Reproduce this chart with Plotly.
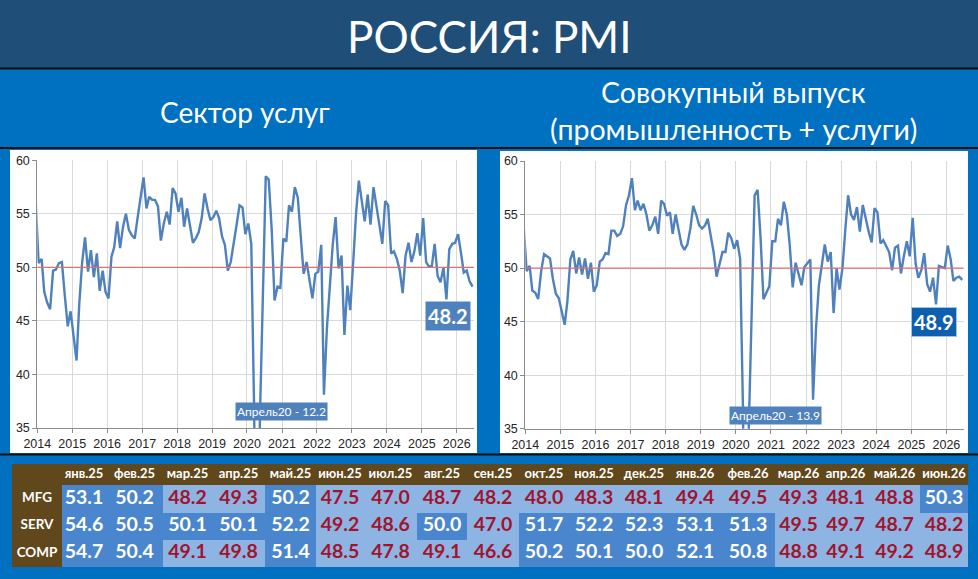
import numpy as np
import pandas as pd
import plotly.graph_objects as go

# ---------------- data ----------------
# monthly points (mid-month), Dec 2013 .. Jun 2026
months = pd.date_range("2013-12-01", "2026-06-01", freq="MS") + pd.Timedelta(days=14)

services = [56.2,
    50.4, 50.8, 47.7, 46.7, 46.1, 49.7, 49.8, 50.4, 50.5, 47.4, 44.5, 45.9,
    43.7, 41.3, 46.5, 50.5, 52.8, 49.6, 51.6, 49.1, 51.3, 47.8, 49.7, 47.7,
    47.1, 51.0, 51.9, 54.3, 51.8, 53.8, 55.0, 53.5, 53.0, 52.7, 54.7, 56.4,
    58.4, 55.5, 56.6, 56.3, 56.3, 55.7, 52.5, 54.1, 55.2, 54.0, 57.4, 56.9,
    55.2, 56.5, 53.8, 55.5, 53.9, 52.3, 52.7, 53.3, 54.6, 56.9, 55.5, 54.4,
    54.7, 55.3, 54.6, 52.9, 52.1, 49.7, 50.5, 52.1, 54.0, 55.8, 55.6, 53.1,
    54.1, 52.2, 37.1, 12.2, 35.9, 47.3, 58.5, 58.2, 53.6, 46.9, 48.2, 48.1,
    52.7, 52.4, 55.8, 55.2, 57.5, 56.5, 53.3, 49.4, 50.5, 48.8, 47.1, 49.4,
    49.6, 52.1, 38.1, 44.3, 48.7, 52.1, 54.7, 49.9, 51.1, 43.7, 48.3, 46.0,
    50.5, 55.2, 58.1, 56.0, 54.3, 56.8, 54.0, 57.5, 55.7, 53.8, 52.2, 56.2,
    55.8, 51.3, 51.5, 50.8, 49.7, 47.6, 51.1, 52.3, 50.5, 51.5, 53.2, 51.1,
    54.6, 50.5, 50.1, 50.1, 52.2, 49.2, 48.6, 50.0, 47.0, 51.7, 52.2, 52.3,
    53.1, 51.3, 49.5, 49.7, 48.7, 48.2]

composite = [53.9,
    49.7, 50.2, 47.9, 47.7, 47.1, 49.7, 51.3, 51.1, 50.9, 49.0, 47.6, 47.2,
    45.8, 44.7, 46.9, 50.8, 51.6, 49.5, 51.0, 49.4, 50.9, 49.0, 50.5, 47.8,
    48.4, 50.6, 50.8, 51.4, 51.3, 53.5, 53.5, 53.0, 53.2, 53.9, 55.9, 56.8,
    58.4, 55.4, 56.3, 55.4, 56.0, 55.0, 53.5, 54.0, 54.8, 53.2, 56.3, 56.0,
    54.9, 55.2, 53.2, 55.0, 53.6, 52.2, 51.7, 52.2, 53.7, 55.8, 55.0, 54.0,
    53.7, 54.0, 54.6, 53.1, 51.5, 49.2, 50.3, 51.5, 51.5, 53.3, 52.8, 51.8,
    52.6, 50.9, 37.2, 13.9, 35.0, 47.1, 56.8, 57.3, 52.8, 47.1, 47.8, 48.3,
    52.5, 52.5, 54.6, 54.0, 56.2, 55.0, 52.2, 48.2, 50.5, 49.5, 48.4, 50.1,
    50.4, 50.8, 37.7, 44.4, 48.4, 50.3, 52.2, 50.6, 51.5, 45.8, 50.0, 48.0,
    50.0, 53.7, 56.8, 55.0, 54.5, 55.7, 53.4, 55.9, 54.5, 53.4, 52.4, 55.6,
    55.2, 52.3, 52.6, 52.0, 51.5, 49.8, 51.9, 52.1, 49.5, 51.1, 52.5, 51.1,
    54.7, 50.4, 49.1, 49.8, 51.4, 48.5, 47.8, 49.1, 46.6, 50.2, 50.1, 50.0,
    52.1, 50.8, 48.8, 49.1, 49.2, 48.9]

table_months = ["янв.25", "фев.25", "мар.25", "апр.25", "май.25", "июн.25", "июл.25", "авг.25", "сен.25",
                "окт.25", "ноя.25", "дек.25", "янв.26", "фев.26", "мар.26", "апр.26", "май.26", "июн.26"]
row_labels = ["MFG", "SERV", "COMP"]
mfg = [53.1, 50.2, 48.2, 49.3, 50.2, 47.5, 47.0, 48.7, 48.2, 48.0, 48.3, 48.1, 49.4, 49.5, 49.3, 48.1, 48.8, 50.3]
serv = [54.6, 50.5, 50.1, 50.1, 52.2, 49.2, 48.6, 50.0, 47.0, 51.7, 52.2, 52.3, 53.1, 51.3, 49.5, 49.7, 48.7, 48.2]
comp = [54.7, 50.4, 49.1, 49.8, 51.4, 48.5, 47.8, 49.1, 46.6, 50.2, 50.1, 50.0, 52.1, 50.8, 48.8, 49.1, 49.2, 48.9]

# ---------------- style ----------------
W, H = 978, 579
def fx(p): return p / W
def fy(p): return 1 - p / H

LINE = "#4F81BD"
BANNER = "#1F4E79"
BG = "#0070C0"
BROWN = "#60481C"
DARK_CELL = "#4A86CE"
LIGHT_CELL = "#8EB4E3"
RED_TXT = "#A0142E"
TXT_FONT = "Lato"
AX_FONT = "Liberation Sans, Arial"

fig = go.Figure()
fig.add_trace(go.Scatter(x=months, y=services, mode="lines", line=dict(color=LINE, width=2.4),
                         xaxis="x", yaxis="y", showlegend=False, hoverinfo="skip"))
fig.add_trace(go.Scatter(x=months, y=composite, mode="lines", line=dict(color=LINE, width=2.4),
                         xaxis="x2", yaxis="y2", showlegend=False, hoverinfo="skip"))

# ---------------- table (heatmap cells + text) ----------------
colwidths = [50, 44, 57, 49, 53, 51, 48, 53, 50, 52, 50, 50, 50, 52, 54, 47, 47, 51, 48]
rowheights = [21, 27.5, 27, 27.5]
xedges = np.concatenate([[0], np.cumsum(colwidths)])
yedges = np.concatenate([[0], np.cumsum(rowheights)])
xc = (xedges[:-1] + xedges[1:]) / 2
yc = (yedges[:-1] + yedges[1:]) / 2

rows = [mfg, serv, comp]
z = [[0] * len(colwidths)]
for r in rows:
    z.append([0] + [1 if v >= 50 else 2 for v in r])

fig.add_trace(go.Heatmap(
    z=z, x=xedges, y=yedges, xaxis="x3", yaxis="y3", zmin=0, zmax=2, showscale=False,
    colorscale=[[0, BROWN], [0.33, BROWN], [0.34, DARK_CELL], [0.66, DARK_CELL],
                [0.67, LIGHT_CELL], [1, LIGHT_CELL]],
    hoverinfo="skip", xgap=0, ygap=0))

tx, ty, tt, tcol, tsize = [], [], [], [], []
for j, m in enumerate(table_months):
    tx.append(xc[j + 1]); ty.append(yc[0]); tt.append(f"<b>{m}</b>"); tcol.append("white"); tsize.append(13)
for i, (lab, r) in enumerate(zip(row_labels, rows)):
    tx.append(xc[0]); ty.append(yc[i + 1]); tt.append(f"<b>{lab}</b>"); tcol.append("white"); tsize.append(13.5)
    for j, v in enumerate(r):
        tx.append(xc[j + 1]); ty.append(yc[i + 1]); tt.append(f"<b>{v:.1f}</b>")
        tcol.append("white" if v >= 50 else RED_TXT); tsize.append(19.5)
fig.add_trace(go.Scatter(x=tx, y=ty, text=tt, mode="text", textposition="middle center",
                         textfont=dict(family=TXT_FONT, size=tsize, color=tcol),
                         xaxis="x3", yaxis="y3", showlegend=False, hoverinfo="skip"))

xcommon = dict(type="date", range=["2014-01-01", "2026-06-28"], tick0="2014-01-01", dtick="M12",
               tickformat="%Y", showgrid=True, gridcolor="#D9D9D9", gridwidth=1,
               showline=True, linecolor="#8C8C8C", linewidth=1, ticks="outside", ticklen=4,
               tickcolor="#8C8C8C", tickfont=dict(family=AX_FONT, size=12.5, color="#262626"),
               zeroline=False, fixedrange=True, automargin=False)
ycommon = dict(range=[35, 60], tick0=35, dtick=5, showgrid=True, gridcolor="#D9D9D9", gridwidth=1,
               showline=True, linecolor="#8C8C8C", linewidth=1, ticks="outside", ticklen=4,
               tickcolor="#8C8C8C", tickfont=dict(family=AX_FONT, size=12.5, color="#262626"),
               zeroline=False, fixedrange=True, automargin=False)

fig.update_layout(
    width=W, height=H, margin=dict(l=0, r=0, t=0, b=0, pad=0, autoexpand=False),
    paper_bgcolor=BG, plot_bgcolor="white", showlegend=False,
    xaxis=dict(xcommon, domain=[fx(37.3), fx(473.8)], anchor="y"),
    yaxis=dict(ycommon, domain=[fy(428), fy(160.3)], anchor="x"),
    xaxis2=dict(xcommon, domain=[fx(525.3), fx(963.5)], anchor="y2"),
    yaxis2=dict(ycommon, domain=[fy(428.7), fy(161)], anchor="x2"),
    xaxis3=dict(domain=[fx(12), fx(968)], range=[xedges[0], xedges[-1]], visible=False,
                anchor="y3", fixedrange=True, automargin=False),
    yaxis3=dict(domain=[fy(567), fy(464)], range=[yedges[-1], yedges[0]], visible=False,
                anchor="x3", fixedrange=True, automargin=False),
)

shapes = [
    dict(type="rect", xref="paper", yref="paper", x0=0, x1=1, y0=fy(68), y1=1,
         fillcolor=BANNER, line=dict(width=0), layer="below"),
    dict(type="rect", xref="paper", yref="paper", x0=fx(10), x1=fx(477), y0=fy(453), y1=fy(150),
         fillcolor="white", line=dict(width=0), layer="below"),
    dict(type="rect", xref="paper", yref="paper", x0=fx(500), x1=fx(968), y0=fy(453), y1=fy(151),
         fillcolor="white", line=dict(width=0), layer="below"),
]
for yy in (68.5, 148, 454.5):
    shapes.append(dict(type="line", xref="paper", yref="paper", x0=0, x1=1, y0=fy(yy), y1=fy(yy),
                       line=dict(color="#111111", width=2)))
for xa, ya in (("x", "y"), ("x2", "y2")):
    shapes.append(dict(type="line", xref=f"{xa} domain", yref=ya, x0=0, x1=1, y0=50, y1=50,
                       line=dict(color="#E07070", width=1.1), layer="above"))
fig.update_layout(shapes=shapes)

ann = [
    dict(text="РОССИЯ: PMI", x=0.5, y=fy(36), xref="paper", yref="paper", showarrow=False,
         font=dict(family=TXT_FONT, size=44, color="white"), xanchor="center", yanchor="middle"),
    dict(text="Сектор услуг", x=fx(245), y=fy(112), xref="paper", yref="paper", showarrow=False,
         font=dict(family=TXT_FONT, size=28, color="white"), xanchor="center", yanchor="middle"),
    dict(text="Совокупный выпуск", x=fx(733), y=fy(92), xref="paper", yref="paper", showarrow=False,
         font=dict(family=TXT_FONT, size=28.5, color="white"), xanchor="center", yanchor="middle"),
    dict(text="(промышленность + услуги)", x=fx(733), y=fy(129), xref="paper", yref="paper", showarrow=False,
         font=dict(family=TXT_FONT, size=28.5, color="white"), xanchor="center", yanchor="middle"),
    dict(text="Апрель20 - 12.2", x="2020-12-28", y=36.5, xref="x", yref="y", showarrow=False,
         font=dict(family=TXT_FONT, size=12, color="white"), bgcolor=LINE, borderpad=1),
    dict(text="Апрель20 - 13.9", x="2021-02-13", y=36.25, xref="x2", yref="y2", showarrow=False,
         font=dict(family=TXT_FONT, size=12, color="white"), bgcolor=LINE, borderpad=1),
    dict(text="<b>48.2</b>", x="2025-09-27", y=45.5, xref="x", yref="y", showarrow=False,
         font=dict(family=TXT_FONT, size=20, color="white"), bgcolor=LINE, borderpad=2),
    dict(text="<b>48.9</b>", x="2025-08-25", y=44.97, xref="x2", yref="y2", showarrow=False,
         font=dict(family=TXT_FONT, size=20, color="white"), bgcolor="#0E5FB0",
         bordercolor="#9DC3E6", borderwidth=1, borderpad=2),
]
fig.update_layout(annotations=ann)

fig.write_html("out.html")
